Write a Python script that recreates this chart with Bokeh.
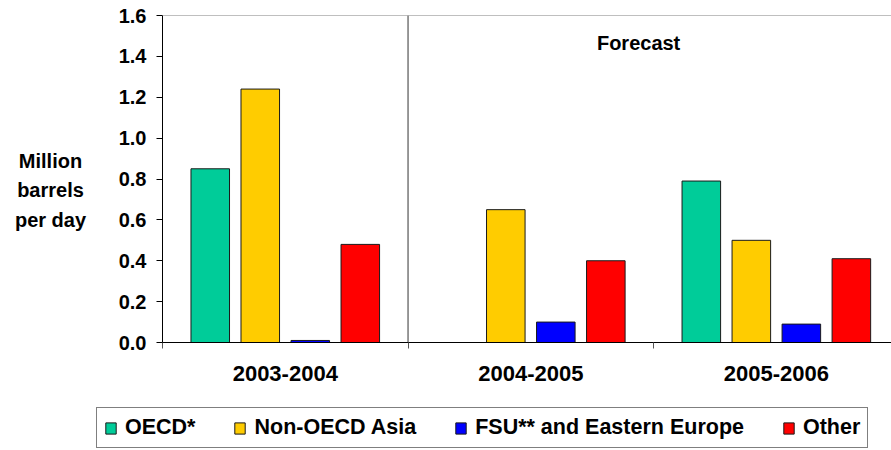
import numpy as np
from bokeh.plotting import figure
from bokeh.models import (Range1d, FixedTicker, NumeralTickFormatter, Span, Label,
                          Legend, LegendItem, ColumnDataSource)
from bokeh.layouts import column, row
from bokeh.embed import file_html
from bokeh.resources import INLINE

# ---- data ----
periods = ["2003-2004", "2004-2005", "2005-2006"]
series_names = ["OECD*", "Non-OECD Asia", "FSU** and Eastern Europe", "Other"]
oecd = [0.85, 0.0, 0.79]
non_oecd_asia = [1.24, 0.65, 0.50]
fsu_eastern_europe = [0.01, 0.10, 0.09]
other = [0.48, 0.40, 0.41]
y_ticks = [0.0, 0.2, 0.4, 0.6, 0.8, 1.0, 1.2, 1.4, 1.6]
colors = ["#00CC99", "#FFCC00", "#0000FF", "#FF0000"]
y_title = "Million\nbarrels\nper day"
forecast_note = "Forecast"

series_values = [oecd, non_oecd_asia, fsu_eastern_europe, other]

FONT = "Liberation Sans"
TOP_H = 405
LBL_W = 110

# ---- left label panel ----
pl = figure(width=LBL_W, height=TOP_H, output_backend="svg", toolbar_location=None,
            x_range=Range1d(0, LBL_W), y_range=Range1d(0, TOP_H),
            x_axis_type=None, y_axis_type=None, min_border=0)
pl.outline_line_color = None
pl.xgrid.grid_line_color = None
pl.ygrid.grid_line_color = None
pl.add_layout(Label(x=50, y=TOP_H - 166, text=y_title, text_align="center",
                    text_baseline="top", text_font=FONT, text_line_height=1.35,
                    text_font_style="bold", text_font_size="20px", text_color="black"))

# ---- main chart ----
p = figure(width=891 - LBL_W, height=TOP_H, output_backend="svg", toolbar_location=None,
           x_range=Range1d(0, 2.969), y_range=Range1d(0, 1.6))
p.min_border_left = 162 - LBL_W
p.min_border_right = 0
p.min_border_top = 15
p.min_border_bottom = TOP_H - 342
p.outline_line_color = None
p.xgrid.grid_line_color = None
p.ygrid.grid_line_color = None

pitch = 0.2037
bar_w = 0.157
centers = np.arange(len(periods)) + 0.5
for i, (name, vals, col) in enumerate(zip(series_names, series_values, colors)):
    src = ColumnDataSource(dict(x=centers + (i - 1.5) * pitch, top=vals))
    p.vbar(x="x", top="top", bottom=0, width=bar_w, source=src,
           fill_color=col, line_color="#1a1a1a", line_width=1)

p.yaxis.ticker = FixedTicker(ticks=y_ticks)
p.yaxis.formatter = NumeralTickFormatter(format="0.0")
p.yaxis.major_label_text_font = FONT
p.yaxis.major_label_text_font_style = "bold"
p.yaxis.major_label_text_font_size = "20px"
p.yaxis.major_label_text_color = "black"
p.yaxis.major_tick_out = 6
p.yaxis.major_tick_in = 0
p.yaxis.minor_tick_line_color = None
p.yaxis.major_label_standoff = 10
p.yaxis.axis_line_color = "black"
p.yaxis.major_tick_line_color = "black"

p.xaxis.ticker = FixedTicker(ticks=list(centers), minor_ticks=[0, 1, 2, 3])
p.xaxis.major_label_overrides = {float(c): lab for c, lab in zip(centers, periods)}
p.xaxis.major_tick_out = 0
p.xaxis.major_tick_in = 0
p.xaxis.minor_tick_out = 6
p.xaxis.minor_tick_in = 0
p.xaxis.minor_tick_line_color = "#555555"
p.xaxis.axis_line_color = "black"
p.xaxis.major_label_text_font = FONT
p.xaxis.major_label_text_font_style = "bold"
p.xaxis.major_label_text_font_size = "22px"
p.xaxis.major_label_text_color = "black"
p.xaxis.major_label_standoff = 17

p.add_layout(Span(location=1.6, dimension="width", line_color="#808080", line_width=1))
p.add_layout(Span(location=1, dimension="height", line_color="#333333", line_width=1))

p.add_layout(Label(x=1.939, y=1.463, text=forecast_note, text_align="center",
                   text_baseline="middle", text_font=FONT,
                   text_font_style="bold", text_font_size="20px", text_color="black"))

# ---- legend strip ----
LEG_H = 450 - TOP_H
pg = figure(width=891, height=LEG_H, output_backend="svg", toolbar_location=None,
            x_range=Range1d(0, 1), y_range=Range1d(0, 1),
            x_axis_type=None, y_axis_type=None, min_border=0)
pg.outline_line_color = None
pg.xgrid.grid_line_color = None
pg.ygrid.grid_line_color = None
items = []
for name, col in zip(series_names, colors):
    # off-screen proxy bar: only its legend swatch is seen
    r = pg.vbar(x=[-5], top=[-5], bottom=[-6], width=0.1,
                fill_color=col, line_color="#1a1a1a", line_width=1)
    items.append(LegendItem(label=name, renderers=[r]))

legend = Legend(items=items, orientation="horizontal", location=(96, 2),
                label_text_font=FONT, label_text_font_style="bold",
                label_text_font_size="21.5px", label_text_color="black",
                glyph_width=13, glyph_height=14, label_standoff=8, spacing=38,
                padding=7, margin=0, border_line_color="black", border_line_width=1,
                background_fill_color="white", background_fill_alpha=1.0,
                label_height=18)
pg.add_layout(legend, "center")

layout = column(row(pl, p, spacing=0), pg, spacing=0)
open("out.html", "w").write(file_html(layout, INLINE))
